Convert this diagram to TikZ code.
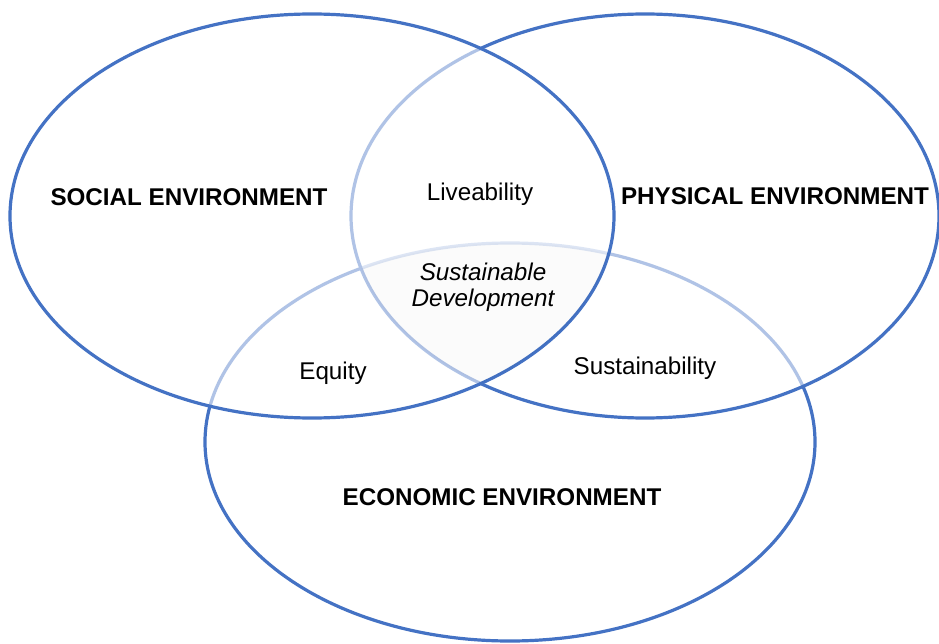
\documentclass[tikz,border=0pt]{standalone}
\usepackage{fontspec}
\setmainfont{Liberation Sans}
\definecolor{vblue}{RGB}{68,114,196}
\begin{document}
\begin{tikzpicture}[x=1pt,y=-1pt,
  ring/.style={draw=vblue,line width=3.2pt,fill=white,fill opacity=0.58},
  head/.style={font=\fontsize{24.2}{28}\selectfont\bfseries,align=center},
  lbl/.style={font=\fontsize{24.2}{28}\selectfont,align=center}]
\fill[white] (0,0) rectangle (939,644);
\useasboundingbox (0,0) rectangle (939,644);
% bottom (economic)
\path[ring] (510,442) ellipse [x radius=305pt, y radius=199pt];
% right (physical)
\path[ring] (645,216) ellipse [x radius=294pt, y radius=202pt];
% left (social)
\path[ring] (312,216) ellipse [x radius=302pt, y radius=202pt];
% triple overlap tint
\begin{scope}
  \clip (510,442) ellipse [x radius=305pt, y radius=199pt];
  \clip (645,216) ellipse [x radius=294pt, y radius=202pt];
  \fill[black,fill opacity=0.015] (312,216) ellipse [x radius=302pt, y radius=202pt];
\end{scope}
\node[head] (social) at (189,197) {SOCIAL ENVIRONMENT};
\node[head] (physical) at (775,196) {PHYSICAL ENVIRONMENT};
\node[head] (economic) at (502,497) {ECONOMIC ENVIRONMENT};
\node[lbl] (live) at (480,194) {Liveability};
\node[lbl] (sd) at (483,287) {\itshape Sustainable\\[-2pt]\itshape Development};
\node[lbl] (equity) at (333,373) {Equity};
\node[lbl] (sust) at (645,368) {Sustainability};
\end{tikzpicture}
\end{document}
